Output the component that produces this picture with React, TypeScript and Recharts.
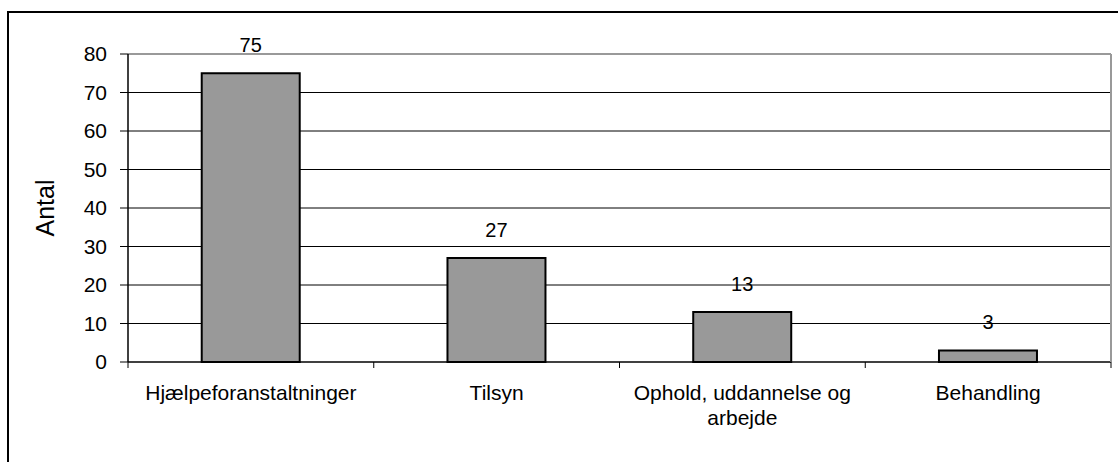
import React from 'react';
import {
  BarChart,
  Bar,
  XAxis,
  YAxis,
  CartesianGrid,
  ReferenceLine,
  LabelList,
} from 'recharts';

const categories = ['Hjælpeforanstaltninger', 'Tilsyn', 'Ophold, uddannelse og arbejde', 'Behandling'];
const tickLines = [['Hjælpeforanstaltninger'], ['Tilsyn'], ['Ophold, uddannelse og', 'arbejde'], ['Behandling']];
const counts = [75, 27, 13, 3];
const yTicks = [0, 10, 20, 30, 40, 50, 60, 70, 80];
const gridValues = [10, 20, 30, 40, 50, 60, 70];

const data = categories.map((name, i) => ({ name, antal: counts[i] }));

const FONT = '"Liberation Sans", Arial, sans-serif';
const TICK_GAP = 23;

function CategoryTick(props: any) {
  const { x, y, payload, index } = props;
  const half = payload.offset || 0;
  const axisY = y - TICK_GAP;
  const lines = tickLines[index] || [payload.value];
  return (
    <g>
      <line x1={x - half} x2={x - half} y1={axisY} y2={axisY + 6} stroke="#000" />
      {index === categories.length - 1 && (
        <line x1={x + half} x2={x + half} y1={axisY} y2={axisY + 6} stroke="#000" />
      )}
      <text x={x} y={y} textAnchor="middle" fill="#000" fontSize={21} fontFamily={FONT}>
        {lines.map((ln: string, i: number) => (
          <tspan key={i} x={x} dy={i === 0 ? '0.71em' : 25}>
            {ln}
          </tspan>
        ))}
      </text>
    </g>
  );
}

function AxisTitle(props: any) {
  const { viewBox } = props;
  const cx = viewBox.x + 45;
  const cy = viewBox.y + viewBox.height / 2;
  return (
    <text
      x={cx}
      y={cy}
      transform={`rotate(-90, ${cx}, ${cy})`}
      textAnchor="middle"
      dominantBaseline="central"
      fontSize={25}
      fill="#000"
      fontFamily={FONT}
    >
      Antal
    </text>
  );
}

export default function App() {
  return (
    <div
      style={{
        position: 'fixed',
        left: 0,
        top: 0,
        width: 1118,
        height: 462,
        background: '#fff',
        overflow: 'hidden',
        fontFamily: FONT,
      }}
    >
      <div
        style={{
          position: 'absolute',
          left: 7,
          top: 11,
          width: 1200,
          height: 600,
          border: '2px solid #000',
        }}
      />
      <div style={{ position: 'absolute', left: 0, top: 0 }}>
        <BarChart
          width={1118}
          height={462}
          data={data}
          margin={{ top: 54, right: 6, bottom: 0, left: 0 }}
          barCategoryGap="30%"
        >
          <CartesianGrid
            vertical={false}
            horizontalValues={gridValues}
            stroke="#000"
            strokeWidth={1}
          />
          <XAxis
            dataKey="name"
            height={100}
            axisLine={{ stroke: '#000', strokeWidth: 1.5 }}
            tickLine={false}
            tickSize={0}
            tickMargin={TICK_GAP}
            interval={0}
            tick={<CategoryTick />}
          />
          <YAxis
            width={128}
            domain={[0, 80]}
            ticks={yTicks}
            interval={0}
            tickSize={8}
            tickMargin={13}
            axisLine={{ stroke: '#000', strokeWidth: 1.5 }}
            tickLine={{ stroke: '#000' }}
            tick={{ fill: '#000', fontSize: 21, fontFamily: FONT }}
            label={<AxisTitle />}
          />
          <YAxis
            yAxisId="frame"
            orientation="right"
            width={1}
            domain={[0, 80]}
            tick={false}
            tickLine={false}
            axisLine={{ stroke: '#999', strokeWidth: 2 }}
          />
          <ReferenceLine y={80} stroke="#999" strokeWidth={2} />
          <Bar
            dataKey="antal"
            fill="#999999"
            stroke="#000"
            strokeWidth={2}
            isAnimationActive={false}
          >
            <LabelList
              dataKey="antal"
              position="top"
              offset={21}
              fill="#000"
              fontSize={20}
              fontFamily={FONT}
            />
          </Bar>
        </BarChart>
      </div>
    </div>
  );
}
